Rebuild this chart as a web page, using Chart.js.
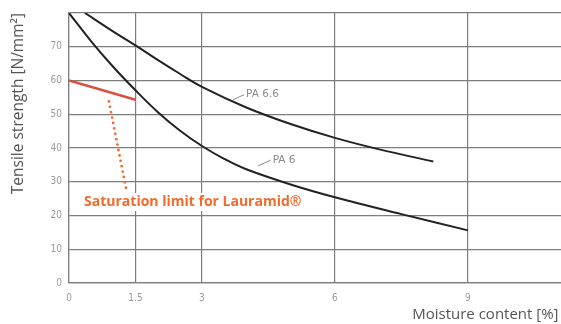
<!DOCTYPE html>
<html>
<head>
<meta charset="utf-8">
<script src="https://cdn.jsdelivr.net/npm/chart.js@4"></script>
<style>
  html, body { margin: 0; padding: 0; background: #fff; }
  #wrap { width: 561px; height: 324px; }
</style>
</head>
<body>
<div id="wrap"><canvas id="chart" width="561" height="324"></canvas></div>
<script>
// moisture content [%] vs tensile strength [N/mm2]
const pa6X = [0, 0.5, 1, 1.5, 2, 2.5, 3, 3.5, 4, 5, 6, 7.5, 9];
const pa6Y = [80, 71.6, 64, 57.1, 50.7, 45.2, 40.6, 36.8, 33.7, 29.2, 25.4, 20.4, 15.6];

const pa66X = [0.36, 1, 1.5, 2, 2.5, 3, 4, 5, 6, 7, 8.22];
const pa66Y = [80, 74.5, 70.4, 66.1, 62, 58.1, 52, 47.1, 43, 39.6, 36];

// saturation limit (red segment) and dotted pointer to the label
const satX = [0, 1.5];
const satY = [60, 54.3];
const pointerX = [0.9, 1.29];
const pointerY = [53.8, 27.8];

const xTicks = [0, 1.5, 3, 6, 9];
const yTicks = [0, 10, 20, 30, 40, 50, 60, 70, 80];

const toPts = (xs, ys) => xs.map((x, i) => ({ x: x, y: ys[i] }));

// curve labels, in data units
const curveLabels = [
  { text: 'PA 6.6', from: [3.7, 54.3], to: [3.95, 55.8] },
  { text: 'PA 6', from: [4.27, 34.7], to: [4.55, 36.4] }
];
const noteText = 'Saturation limit for Lauramid®';
const notePos = [0.34, 24];

const labelPlugin = {
  id: 'labels',
  afterDatasetsDraw(chart) {
    const ctx = chart.ctx;
    const xs = chart.scales.x, ys = chart.scales.y;
    ctx.save();
    curveLabels.forEach(l => {
      const x1 = xs.getPixelForValue(l.from[0]), y1 = ys.getPixelForValue(l.from[1]);
      const x2 = xs.getPixelForValue(l.to[0]), y2 = ys.getPixelForValue(l.to[1]);
      ctx.strokeStyle = '#8a8a8a';
      ctx.lineWidth = 1;
      ctx.beginPath();
      ctx.moveTo(x1, y1);
      ctx.lineTo(x2, y2);
      ctx.stroke();
      ctx.fillStyle = '#8a8a8a';
      ctx.font = '10.5px "DejaVu Sans", sans-serif';
      ctx.textBaseline = 'middle';
      ctx.textAlign = 'left';
      ctx.fillText(l.text, x2 + 2, y2);
    });

    ctx.font = 'bold 14px "Open Sans", sans-serif';
    const nx = xs.getPixelForValue(notePos[0]);
    const ny = ys.getPixelForValue(notePos[1]);
    const w = ctx.measureText(noteText).width;
    ctx.fillStyle = '#fff';
    ctx.fillRect(nx - 3, ny - 9, w + 6, 18);
    ctx.fillStyle = '#f26b2a';
    ctx.textBaseline = 'middle';
    ctx.textAlign = 'left';
    ctx.fillText(noteText, nx, ny);
    ctx.restore();
  }
};

const gridColor = '#7d7d7d';
const tickColor = '#9a9a9a';

new Chart(document.getElementById('chart'), {
  type: 'line',
  data: {
    datasets: [
      {
        label: 'PA 6.6',
        data: toPts(pa66X, pa66Y),
        borderColor: '#222',
        borderWidth: 2,
        pointRadius: 0,
        tension: 0.4
      },
      {
        label: 'PA 6',
        data: toPts(pa6X, pa6Y),
        borderColor: '#222',
        borderWidth: 2,
        pointRadius: 0,
        tension: 0.4
      },
      {
        label: 'Saturation',
        data: toPts(satX, satY),
        borderColor: '#d9503f',
        borderWidth: 2.5,
        pointRadius: 0
      },
      {
        label: 'Pointer',
        data: toPts(pointerX, pointerY),
        borderColor: '#f26b2a',
        borderWidth: 2.8,
        borderDash: [0, 5.5],
        borderCapStyle: 'round',
        pointRadius: 0
      }
    ]
  },
  options: {
    responsive: false,
    animation: false,
    layout: { padding: { top: 13, right: 0, left: 0, bottom: 0 } },
    plugins: {
      legend: { display: false },
      tooltip: { enabled: false }
    },
    scales: {
      x: {
        type: 'linear',
        min: 0,
        max: 11.1,
        afterBuildTicks: (scale) => { scale.ticks = xTicks.map(v => ({ value: v })); },
        afterFit: (scale) => { scale.height = 41; },
        grid: { color: gridColor, lineWidth: 1.2, drawTicks: false },
        border: { color: gridColor, width: 1.2 },
        ticks: {
          color: tickColor,
          padding: 9,
          maxRotation: 0,
          font: { size: 10, family: '"DejaVu Sans Condensed", "DejaVu Sans", sans-serif' },
          callback: (v) => String(v)
        },
        title: {
          display: true,
          text: 'Moisture content [%]\u2009',
          align: 'end',
          color: '#555',
          padding: { top: 0, bottom: 0 },
          font: { size: 15, family: '"Open Sans", sans-serif' }
        }
      },
      y: {
        min: 0,
        max: 80,
        afterBuildTicks: (scale) => { scale.ticks = yTicks.map(v => ({ value: v })); },
        afterFit: (scale) => { scale.width = 69; },
        grid: { color: gridColor, lineWidth: 1.2, drawTicks: false },
        border: { color: gridColor, width: 1.2 },
        ticks: {
          color: tickColor,
          padding: 7,
          font: { size: 10, family: '"DejaVu Sans Condensed", "DejaVu Sans", sans-serif' },
          callback: (v) => (v === 80 ? '' : String(v))
        },
        title: {
          display: true,
          text: 'Tensile strength [N/mm²]',
          align: 'end',
          color: '#555',
          padding: { top: 9, bottom: 0 },
          font: { size: 15.5, family: '"Open Sans", sans-serif' }
        }
      }
    }
  },
  plugins: [labelPlugin]
});
</script>
</body>
</html>
